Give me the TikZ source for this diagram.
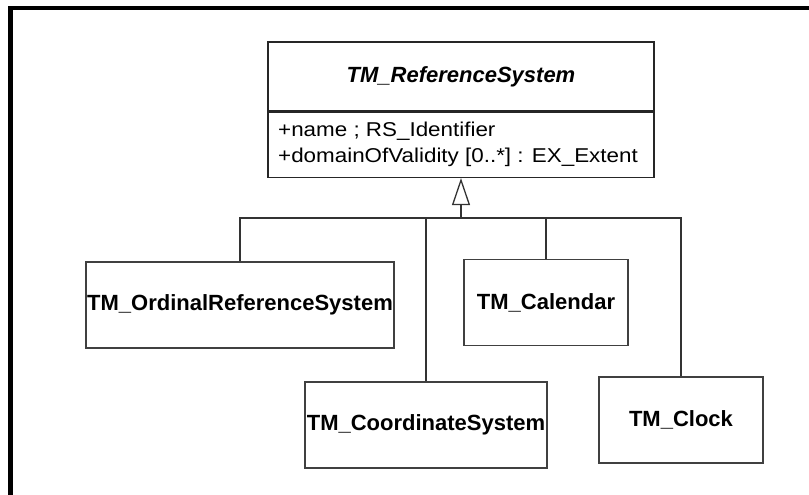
\documentclass[tikz,border=0pt]{standalone}
\usepackage{fontspec}
\setmainfont{Liberation Sans}
\usepackage{tikz}
\usetikzlibrary{arrows.meta,positioning,calc}

\begin{document}
\begin{tikzpicture}[
    x=1pt, y=-1pt,
    classbox/.style={draw=black!75, line width=1.4pt, minimum width=164pt, minimum height=86pt, inner sep=0pt, font=\fontsize{22}{26}\selectfont\bfseries, text centered},
    titlebox/.style={draw=black!85, line width=1.4pt, minimum width=386pt, inner sep=0pt, font=\fontsize{22}{26}\selectfont\bfseries\itshape},
    attribute/.style={anchor=west, inner sep=0pt, font=\fontsize{20}{24}\selectfont},
    link/.style={draw=black!80, line width=1.3pt},
    frameline/.style={line width=4.5pt}
]
\useasboundingbox (0,0) rectangle (809,495);

% Outer frame
\draw[frameline] (10.5,495) -- (10.5,8) -- (809,8);

% Parent class
\node[titlebox, minimum height=69pt] (refsys) at (461,76.5) {TM\_ReferenceSystem};
\node[titlebox, minimum height=65pt, below=0pt of refsys] (attrs) {};
\node[attribute] (name) at (278,131) {\scalebox{1.12}[1]{+name ; RS\_Identifier}};
\node[attribute] (domain) at (278,157) {\scalebox{1.12}[1]{+domainOfValidity [0..*] : EX\_Extent}};

% Subclasses
\node[classbox, minimum width=308pt] (ordinal) at (240,305) {TM\_OrdinalReferenceSystem};
\node[classbox] (calendar) at (546,302.5) {TM\_Calendar};
\node[classbox, minimum width=242pt] (coordsys) at (426,425) {TM\_CoordinateSystem};
\node[classbox] (clock) at (681,420) {TM\_Clock};

% Generalisation
\coordinate (hub) at (461,218);
\foreach \c in {ordinal,calendar,coordsys,clock} {
    \draw[link] (\c.north) |- (hub);
}
\draw[link, -{Triangle[open, length=27pt, width=18pt]}] (hub) -- (attrs.south);

\end{tikzpicture}
\end{document}
